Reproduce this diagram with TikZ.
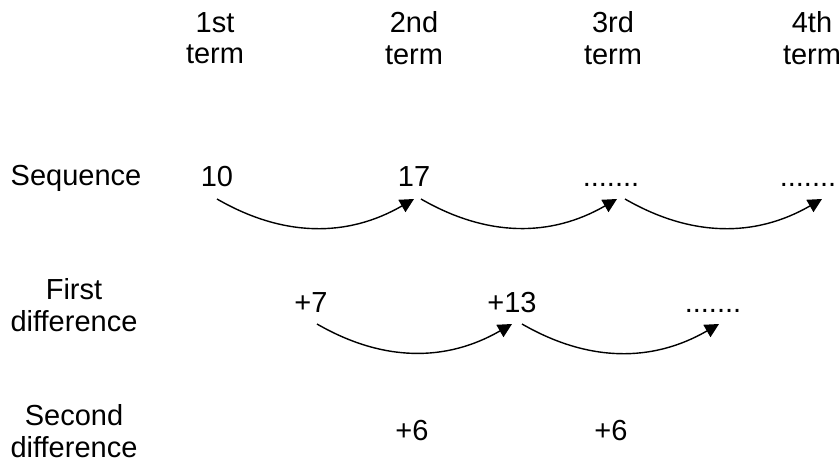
\documentclass[tikz,border=0pt]{standalone}
\usepackage{fontspec}
\setmainfont{Liberation Sans}
\usetikzlibrary{arrows.meta,positioning,calc}
\newcommand{\seqfont}{\fontsize{29}{31.6}\selectfont}
\tikzset{
    head/.style={
        font=\seqfont,
        align=center,
        inner sep=0pt,
    },
    val/.style={
        font=\seqfont,
        inner sep=0pt,
        outer sep=7pt,
        text height=21pt,
        text depth=5pt,
    },
    arc/.style={
        ->,
        line width=1.4pt,
    },
}

\begin{document}
\begin{tikzpicture}[x=1pt,y=1pt,node distance=199pt,>={Triangle[length=14pt,width=14pt]}]
    \useasboundingbox (0,0) rectangle (840,-462);
    % column heads
    \node [head] (h1) at (215,-38) {1st\\term};
    \node [head] (h2) [right of=h1] {2nd\\term};
    \node [head] (h3) [right of=h2] {3rd\\term};
    \node [head] (h4) [right of=h3] {4th\\term};

    % row heads
    \node [head,anchor=base] (seq) at (76,-186) {Sequence};
    \node [head] (first) at (74,-305) {First\\difference};
    \node [head] (second) at (74,-431) {Second\\difference};

    % sequence
    \node [val] (s1) at (217,-179) {10};
    \node [val,node distance=197pt,right of=s1] (s2) {17};
    \node [val,node distance=197pt,right of=s2] (s3) {.......};
    \node [val,node distance=197pt,right of=s3] (s4) {.......};

    % first difference
    \node [val] (d1) at (311,-304) {+7};
    \node [val,node distance=201pt,right of=d1] (d2) {+13};
    \node [val,node distance=201pt,right of=d2] (d3) {.......};

    % second difference
    \node [val] (e1) at (412,-432) {+6};
    \node [val,right of=e1] (e2) {+6};

    \path[arc] (s1.south) edge [bend right=30] (s2.south);
    \path[arc] ([xshift=7pt]s2.south) edge [bend right=30] ([xshift=6pt]s3.south);
    \path[arc] ([xshift=14pt]s3.south) edge [bend right=30] ([xshift=14pt]s4.south);
    \path[arc] ([xshift=6pt]d1.south) edge [bend right=30] (d2.south);
    \path[arc] ([xshift=10pt]d2.south) edge [bend right=30] ([xshift=6pt]d3.south);
\end{tikzpicture}
\end{document}
